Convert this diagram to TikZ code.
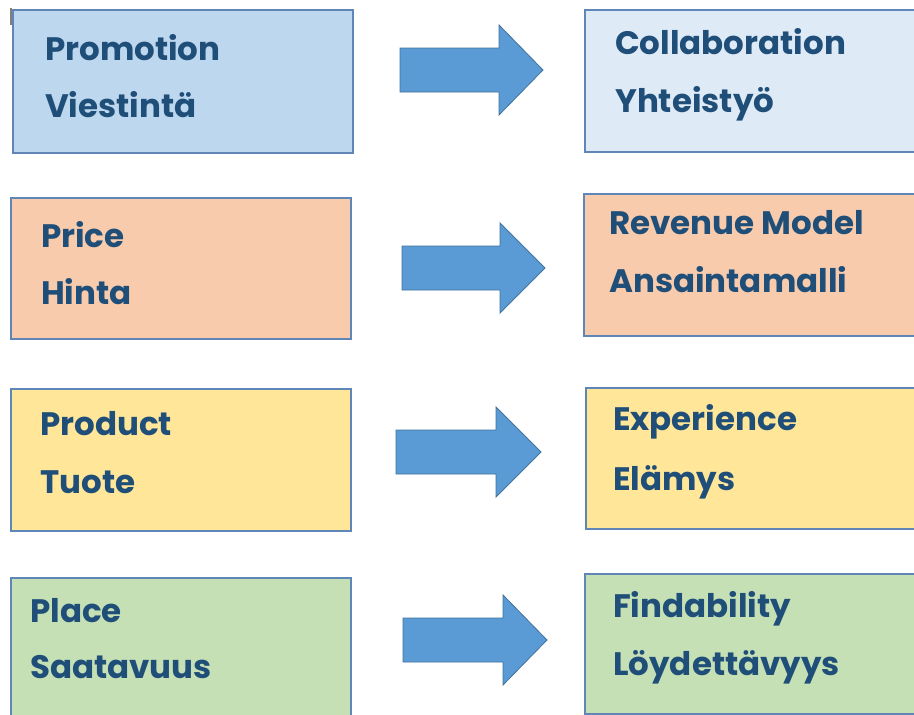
\documentclass[tikz,border=0pt]{standalone}
\usepackage{fontspec}
\setmainfont{Poppins}
\definecolor{txtblue}{HTML}{1F4E79}
\definecolor{boxedge}{HTML}{5F86B6}
\definecolor{arrowblue}{HTML}{5B9BD5}
\definecolor{arrowedge}{HTML}{41719C}
\definecolor{bluebox}{HTML}{BDD7EE}
\definecolor{lightbluebox}{HTML}{DEEBF7}
\definecolor{peachbox}{HTML}{F8CBAD}
\definecolor{yellowbox}{HTML}{FFE699}
\definecolor{greenbox}{HTML}{C5E0B4}
\begin{document}
\begin{tikzpicture}[x=1pt, y=-1pt,
    box/.style={draw=boxedge, line width=1.8pt, anchor=north west, inner sep=0pt},
    lbl/.style={anchor=base west, inner sep=0pt, text=txtblue,
      font=\bfseries\fontsize{32.5}{35}\selectfont},
    blockarrow/.style={draw=arrowedge, fill=arrowblue, line width=0.8pt, line join=miter}]

      \useasboundingbox (0, 0) rectangle (914, 715);
      \draw[gray, line width=2pt] (11, 8) -- (11, 25);

      % left column
      \node[box, fill=bluebox, minimum width=340pt, minimum height=143pt] (promo) at (12, 9) {};
      \node[box, fill=peachbox, minimum width=340pt, minimum height=141pt] (price) at (10, 197) {};
      \node[box, fill=yellowbox, minimum width=340pt, minimum height=142pt] (product) at (10, 388) {};
      \node[box, fill=greenbox, minimum width=340pt, minimum height=145pt] (place) at (10, 577) {};

      % right column
      \node[box, fill=lightbluebox, minimum width=335pt, minimum height=142pt] (collab) at (584, 9) {};
      \node[box, fill=peachbox, minimum width=335pt, minimum height=142pt] (revenue) at (583, 193) {};
      \node[box, fill=yellowbox, minimum width=335pt, minimum height=141pt] (experience) at (585, 387) {};
      \node[box, fill=greenbox, minimum width=335pt, minimum height=140pt] (findability) at (584, 573) {};

      \node[lbl] (promo en) at (45, 60) {Promotion};
      \node[lbl] (promo fi) at (45, 117) {Viestintä};
      \node[lbl] (price en) at (41, 247) {Price};
      \node[lbl] (price fi) at (41, 304) {Hinta};
      \node[lbl] (product en) at (40, 435) {Product};
      \node[lbl] (product fi) at (40, 493) {Tuote};
      \node[lbl] (place en) at (30, 622) {Place};
      \node[lbl] (place fi) at (30, 678) {Saatavuus};

      \node[lbl] (collab en) at (615, 54) {Collaboration};
      \node[lbl] (collab fi) at (615, 112) {Yhteistyö};
      \node[lbl] (revenue en) at (609, 234) {Revenue Model};
      \node[lbl] (revenue fi) at (609, 292) {Ansaintamalli};
      \node[lbl] (experience en) at (613, 430) {Experience};
      \node[lbl] (experience fi) at (613, 490) {Elämys};
      \node[lbl] (findability en) at (613, 617) {Findability};
      \node[lbl] (findability fi) at (613, 675) {Löydettävyys};

      % block arrows: shaft start / centre / head base / tip
      \foreach \x/\y/\b/\t in {400/70/499/543, 402/268/500/545, 396/452/496/541, 403/640/503/547}
        \draw[blockarrow] (\x, \y-22) -- (\b, \y-22) -- (\b, \y-45) -- (\t, \y)
          -- (\b, \y+45) -- (\b, \y+22) -- (\x, \y+22) -- cycle;

    \end{tikzpicture}
\end{document}
